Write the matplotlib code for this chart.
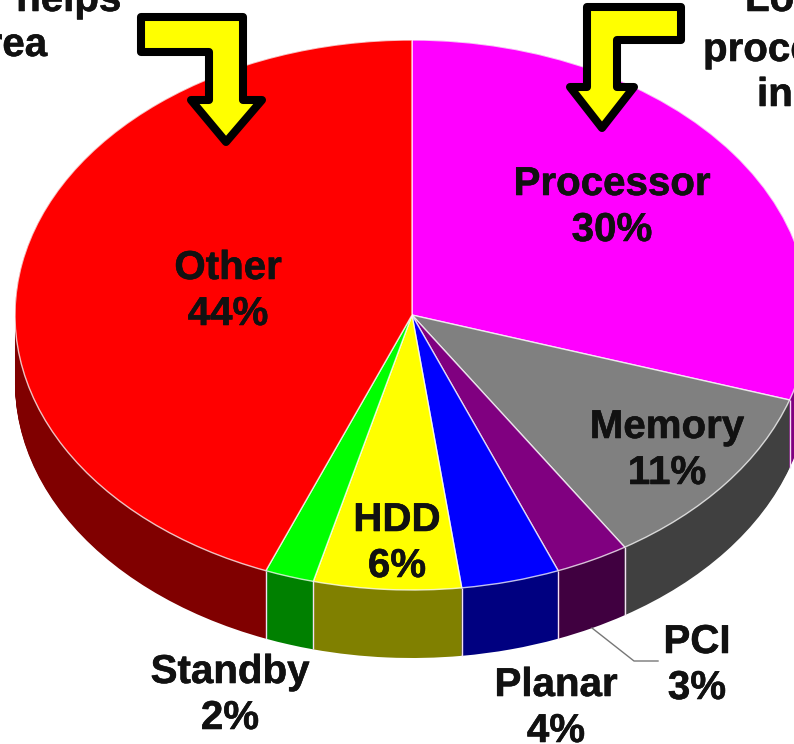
import numpy as np
import matplotlib
matplotlib.use('Agg')
import matplotlib.pyplot as plt
import matplotlib.patheffects as pe
from matplotlib.patches import Polygon

plt.rcParams['font.family'] = ['Liberation Sans', 'DejaVu Sans']

categories = ['Processor', 'Memory', 'PCI', 'Planar', 'HDD', 'Standby', 'Other']
values = [30, 11, 3, 4, 6, 2, 44]
top_colors = ['#ff00ff', '#808080', '#800080', '#0000ff', '#ffff00', '#00ff00', '#ff0000']
side_colors = ['#800080', '#404040', '#400040', '#000080', '#808000', '#008000', '#800000']

# label centres in pixels, name on one line and percent on the next
label_pos = {'Processor': (612, 184), 'Memory': (667, 427), 'PCI': (697, 642),
             'Planar': (556, 685), 'HDD': (397, 520), 'Standby': (230, 672),
             'Other': (228, 268)}

W, H = 794, 744
cx, cy, rx, ry = 412, 315, 397, 275
depth = 68 / ry

fig = plt.figure(figsize=(W / 100, H / 100), dpi=100)

# pie axes, unit circle squashed into an ellipse
ax = fig.add_axes([0, 0, 1, 1])
for d in np.linspace(depth, 0, 70):
    ax.pie(values, colors=side_colors, startangle=90, counterclock=False,
           center=(0, -d), wedgeprops={'linewidth': 0})
ax.pie(values, colors=top_colors, startangle=90, counterclock=False,
       wedgeprops={'linewidth': 1.0, 'edgecolor': '#ffffffc0'})

# edges between the slices on the visible side wall
ends = 90 - np.cumsum(values) / np.sum(values) * 360
for a in np.radians(ends):
    if np.sin(a) < 0:
        ax.plot([np.cos(a)] * 2, [np.sin(a), np.sin(a) - depth],
                color='#f4e0f4', lw=1.0, solid_capstyle='butt')

ax.set_aspect('auto')
ax.set_xlim(-cx / rx, (W - cx) / rx)
ax.set_ylim((cy - H) / ry, cy / ry)
ax.axis('off')

# overlay in pixel coordinates
ov = fig.add_axes([0, 0, 1, 1])
ov.set_xlim(0, W)
ov.set_ylim(H, 0)
ov.axis('off')
ov.patch.set_alpha(0)

FS = 29
heavy = [pe.withStroke(linewidth=0.4, foreground='#111111')]


def label(x, y, s, **kw):
    ov.text(x, y, s, fontsize=FS, fontweight='bold', color='#111111', path_effects=heavy, **kw)


for name, val in zip(categories, values):
    x, y = label_pos[name]
    label(x, y, name, ha='center', va='center')
    label(x, y + 46, f'{val}%', ha='center', va='center')

# PCI leader line
ov.plot([592, 634, 658], [628, 661, 661], color='#777777', lw=1)

# callout arrows
left_arrow = [(141, 17), (243, 17), (243, 100), (262, 100), (226, 142),
              (191, 100), (209, 100), (209, 52), (141, 52)]
right_arrow = [(587, 7), (681, 7), (681, 40), (617, 40), (617, 87),
               (634, 87), (602, 128), (570, 87), (587, 87)]
for pts in (left_arrow, right_arrow):
    ov.add_patch(Polygon(pts, closed=True, facecolor='#ffff00', edgecolor='black',
                         lw=5.8, joinstyle='round'))

# callout text cut off by the slide crop
label(121, 11, 'helps', ha='right', va='baseline')
label(47, 56, 'area', ha='right', va='baseline')
label(745, 11, 'Lower', ha='left', va='baseline')
label(703, 61, 'processor', ha='left', va='baseline')
label(757, 106, 'in', ha='left', va='baseline')

fig.savefig('out.png', dpi=100)
